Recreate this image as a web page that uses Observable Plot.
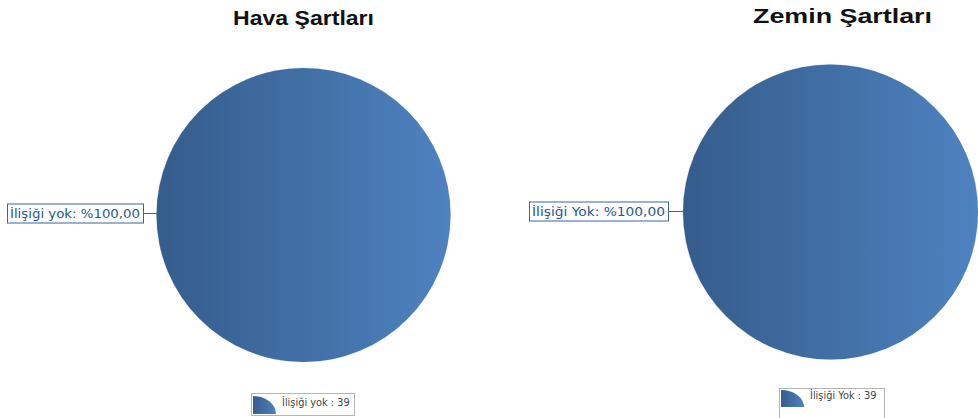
<!DOCTYPE html>
<html>
<head>
<meta charset="utf-8">
<script src="https://cdn.jsdelivr.net/npm/d3@7"></script>
<script src="https://cdn.jsdelivr.net/npm/@observablehq/plot@0.6"></script>
<style>
  html, body { margin: 0; padding: 0; background: #fff; }
  #chart svg { display: block; }
</style>
</head>
<body>
<div id="chart"></div>
<script>
// Two pie charts: weather and ground conditions, by "İlişiği yok" category
const charts = ["Hava Şartları", "Zemin Şartları"];
const categories = [["İlişiği yok"], ["İlişiği Yok"]];
const counts = [[39], [39]];

// Placement of each pie panel on the 978×418 canvas
const panels = [
  {cx: 303.5, cy: 215, r: 147, titleX: 233, titleY: 25, titleW: 141,
   labelLeft: 7, labelRight: 143, labelY: 213,
   legendX: 251, legendY: 393, legendW: 103, legendH: 22, swatchTop: 3, swatchBottom: 21, textDy: 12.7},
  {cx: 830.5, cy: 212, r: 147.5, titleX: 753, titleY: 23, titleW: 179,
   labelLeft: 529, labelRight: 668, labelY: 211,
   legendX: 779, legendY: 388, legendW: 105, legendH: 40, swatchTop: 2, swatchBottom: 19, textDy: 11}
];

const fmtPct = v => "%" + v.toFixed(2).replace(".", ",");

// One row per slice
const slices = charts.flatMap((chart, i) => {
  const total = d3.sum(counts[i]);
  return categories[i].map((cat, j) => ({
    chart, panel: i, category: cat, value: counts[i][j],
    pct: counts[i][j] / total * 100
  }));
});

const labelFont = "13px 'DejaVu Sans'";
const legendFont = "9.8px 'DejaVu Sans'";

// Shared gradient definitions
function defs() {
  const g = d3.create("svg:defs");
  const lg = g.append("linearGradient").attr("id", "pieFill").attr("x1", 0).attr("x2", 1).attr("y1", 0).attr("y2", 0);
  lg.append("stop").attr("offset", "0%").attr("stop-color", "#355c8b");
  lg.append("stop").attr("offset", "50%").attr("stop-color", "#416fa5");
  lg.append("stop").attr("offset", "100%").attr("stop-color", "#4e82c0");
  return g.node();
}

// Chart titles
function titles(index, scales) {
  const g = d3.create("svg:g");
  charts.forEach((chart, i) => {
    const p = panels[i];
    g.append("text")
      .attr("x", scales.x(p.titleX)).attr("y", scales.y(p.titleY))
      .attr("text-anchor", "start")
      .attr("textLength", p.titleW).attr("lengthAdjust", "spacingAndGlyphs")
      .attr("fill", "#111")
      .style("font", "bold 21px 'Liberation Sans', Arial, sans-serif")
      .text(chart);
  });
  return g.node();
}

// Pie slices, computed with d3.pie and placed through the x/y scales
function pies(index, scales) {
  const g = d3.create("svg:g");
  charts.forEach((chart, i) => {
    const p = panels[i];
    const rows = slices.filter(d => d.panel === i);
    const arcs = d3.pie().sort(null).value(d => d.value)(rows);
    const arc = d3.arc().innerRadius(0).outerRadius(p.r);
    const pg = g.append("g").attr("transform", `translate(${scales.x(p.cx)},${scales.y(p.cy)})`);
    pg.selectAll("path").data(arcs).join("path")
      .attr("d", arc)
      .attr("fill", "url(#pieFill)")
      .attr("stroke", "#4a78b0")
      .attr("stroke-opacity", 0.35)
      .attr("stroke-width", 0.6);
  });
  return g.node();
}

// Boxed value labels with a leader line to the pie edge
function labels(index, scales) {
  const g = d3.create("svg:g");
  slices.forEach(d => {
    const p = panels[d.panel];
    const text = `${d.category}: ${fmtPct(d.pct)}`;
    const xl = scales.x(p.labelLeft), xr = scales.x(p.labelRight), y = scales.y(p.labelY);
    const h = 19;
    const edge = scales.x(p.cx) - Math.sqrt(p.r * p.r - (p.cy - p.labelY) ** 2);
    g.append("line").attr("x1", xr).attr("x2", edge + 1).attr("y1", y + 0.5).attr("y2", y + 0.5)
      .attr("stroke", "#3a64a0").attr("stroke-width", 1);
    g.append("rect").attr("x", xl + 0.5).attr("y", y - h / 2 + 0.5).attr("width", xr - xl).attr("height", h)
      .attr("fill", "#fff").attr("stroke", "#3a64a0").attr("stroke-width", 1);
    g.append("text").attr("x", xl + 3).attr("y", y + 5)
      .attr("text-anchor", "start")
      .attr("textLength", xr - xl - 6).attr("lengthAdjust", "spacingAndGlyphs")
      .attr("fill", "#2a5690").style("font", labelFont).text(text);
  });
  return g.node();
}

// Legend boxes with a quarter-pie swatch
function legends(index, scales) {
  const g = d3.create("svg:g");
  slices.forEach(d => {
    const p = panels[d.panel];
    const text = `${d.category} : ${d.value}`;
    const x = scales.x(p.legendX), y = scales.y(p.legendY);
    g.append("rect").attr("x", x + 0.5).attr("y", y + 0.5).attr("width", p.legendW).attr("height", p.legendH)
      .attr("fill", "#fff").attr("stroke", "#b4b4b4").attr("stroke-width", 1);
    const sx = x + 2, sy = y + p.swatchBottom, sw = 23, sh = p.swatchBottom - p.swatchTop;
    g.append("path")
      .attr("d", `M${sx},${sy} L${sx},${sy - sh} A${sw},${sh} 0 0 1 ${sx + sw},${sy} Z`)
      .attr("fill", "url(#pieFill)");
    g.append("text").attr("x", x + 31).attr("y", y + p.textDy)
      .attr("text-anchor", "start")
      .attr("fill", "#444").style("font", legendFont).text(text);
  });
  return g.node();
}

const plot = Plot.plot({
  width: 978,
  height: 418,
  margin: 0,
  x: {domain: [0, 978], range: [0, 978], axis: null},
  y: {domain: [0, 418], range: [0, 418], axis: null},
  style: {background: "#fff"},
  marks: [defs, pies, labels, legends, titles]
});
document.getElementById("chart").append(plot);
</script>
</body>
</html>
